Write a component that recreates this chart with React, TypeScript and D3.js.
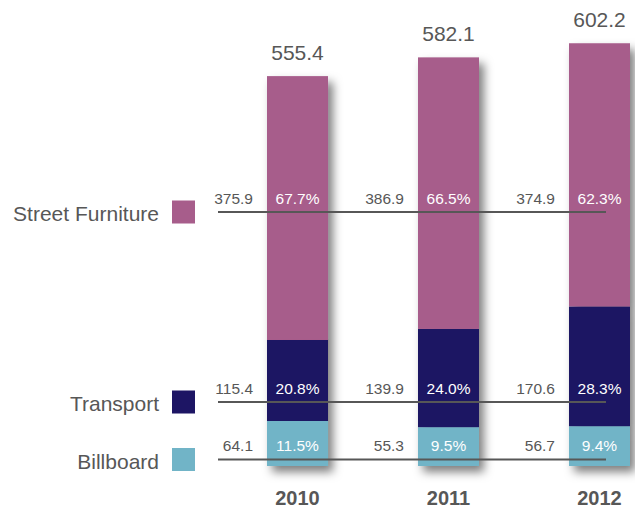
import React from "react";
import * as d3 from "d3";

// chart values
const years = ["2010", "2011", "2012"];
const seriesNames = ["Billboard", "Transport", "Street Furniture"];
const billboard = [64.1, 55.3, 56.7];
const transport = [115.4, 139.9, 170.6];
const streetFurniture = [375.9, 386.9, 374.9];
const totals = [555.4, 582.1, 602.2];
const billboardPct = ["11.5%", "9.5%", "9.4%"];
const transportPct = ["20.8%", "24.0%", "28.3%"];
const streetPct = ["67.7%", "66.5%", "62.3%"];

const colors = ["#71b4c7", "#1d1564", "#a75d8b"];
const grey = "#575757";
const font = "'Liberation Sans', Arial, Helvetica, sans-serif";

const W = 635;
const H = 511;

export default function App() {
  const rows = years.map((year, i) => ({
    year,
    Billboard: billboard[i],
    Transport: transport[i],
    "Street Furniture": streetFurniture[i],
  }));
  const stacked = d3.stack<any>().keys(seriesNames)(rows);
  const pcts = [billboardPct, transportPct, streetPct];

  const x = d3.scaleBand().domain(years).range([267, 630]).paddingInner(0.596).paddingOuter(0);
  const y = d3.scaleLinear().domain([0, 600]).range([466, 44.8]);

  // legend rows / guide lines, one per series
  const rowY = d3.scaleOrdinal<string, number>().domain(seriesNames).range([459.5, 402, 212]);
  const lineX0 = 218;
  const lineX1 = (x("2012") as number) + 37;

  return (
    <svg width={W} height={H} style={{ position: "absolute", left: 0, top: 0 }} fontFamily={font}>
      <defs>
        <filter id="shadow" x="-30%" y="-10%" width="180%" height="130%">
          <feDropShadow dx="5" dy="6" stdDeviation="5" floodColor="#000" floodOpacity="0.5" />
        </filter>
      </defs>
      <rect width={W} height={H} fill="#fff" />

      {years.map((yr, i) => (
        <g key={yr} filter="url(#shadow)">
          {stacked.map((s, k) => (
            <rect
              key={s.key}
              x={x(yr)}
              width={x.bandwidth()}
              y={y(s[i][1])}
              height={y(s[i][0]) - y(s[i][1])}
              fill={colors[k]}
            />
          ))}
        </g>
      ))}

      {seriesNames.map((name, k) => (
        <g key={name}>
          <text
            x={159}
            y={rowY(name) + 9}
            textAnchor="end"
            fontSize={21}
            fill={grey}
          >
            {name}
          </text>
          <rect x={172} y={rowY(name) - 11.5} width={23} height={23} fill={colors[k]} />
          <line x1={lineX0} x2={lineX1} y1={rowY(name)} y2={rowY(name)} stroke={grey} strokeWidth={2} />
          {years.map((yr, i) => (
            <g key={yr} fontSize={15.5}>
              <text x={(x(yr) as number) - 14} y={rowY(name) - 8.5} textAnchor="end" fill={grey}>
                {stacked[k][i].data[name].toFixed(1)}
              </text>
              <text
                x={(x(yr) as number) + x.bandwidth() / 2}
                y={rowY(name) - 8.5}
                textAnchor="middle"
                fill="#fff"
              >
                {pcts[k][i]}
              </text>
            </g>
          ))}
        </g>
      ))}

      {years.map((yr, i) => (
        <g key={yr}>
          <text
            x={(x(yr) as number) + x.bandwidth() / 2}
            y={y(totals[i]) - 16}
            textAnchor="middle"
            fontSize={21}
            fill={grey}
          >
            {totals[i].toFixed(1)}
          </text>
          <text
            x={(x(yr) as number) + x.bandwidth() / 2}
            y={505}
            textAnchor="middle"
            fontSize={20}
            fontWeight="bold"
            fill={grey}
          >
            {yr}
          </text>
        </g>
      ))}
    </svg>
  );
}
